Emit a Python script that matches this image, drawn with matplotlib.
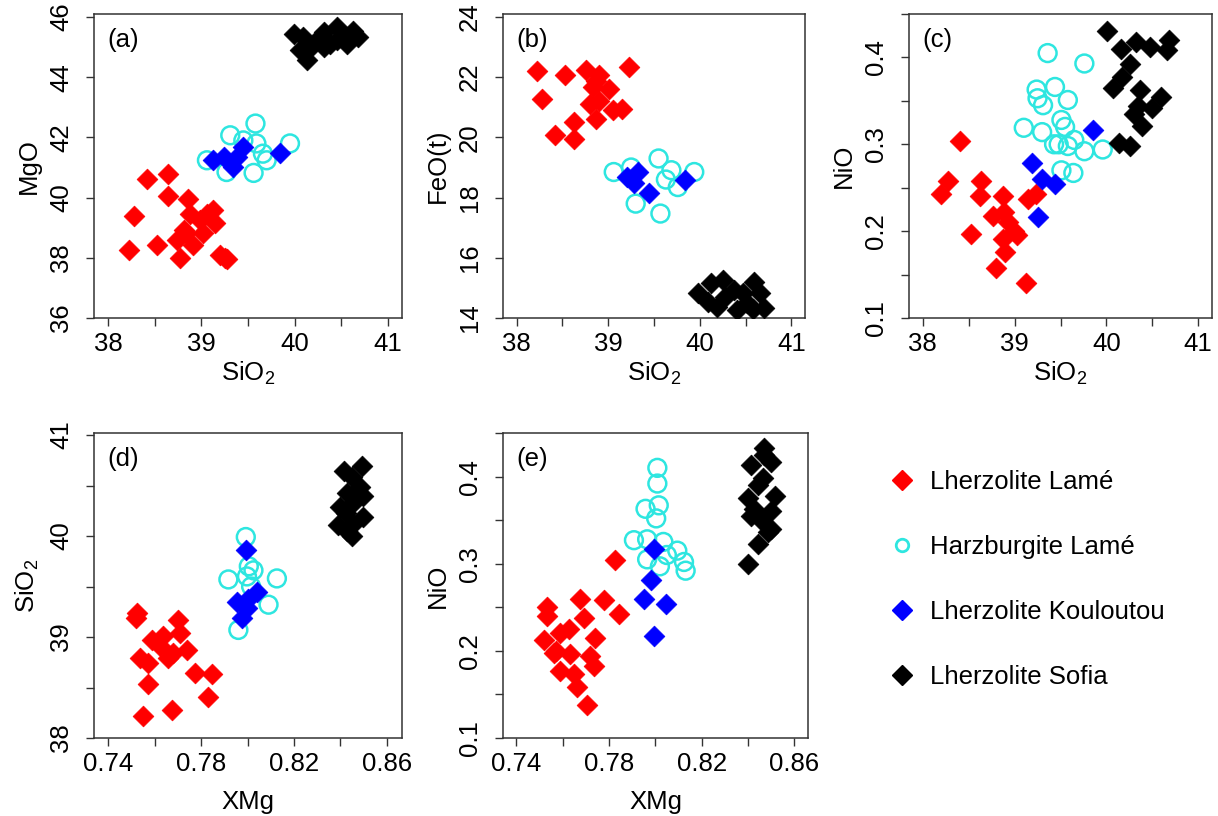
"""
olivine compositions: Lame / Kouloutou / Sofia peridotites
"""
import matplotlib
matplotlib.use('Agg')
import matplotlib.pyplot as plt
from matplotlib.lines import Line2D

plt.rcParams['font.family'] = ['Liberation Sans', 'DejaVu Sans']
plt.rcParams['mathtext.fontset'] = 'custom'
plt.rcParams['mathtext.rm'] = 'Liberation Sans'
plt.rcParams['mathtext.it'] = 'Liberation Sans'

# ---- (a) SiO2 - MgO ----
a_lame_x = [38.42, 38.64, 38.64, 38.28, 38.23, 38.53, 38.77, 38.86, 39.25, 39.20, 39.27,
            38.81, 38.88, 38.99, 39.06, 39.13, 39.15, 38.74, 38.91, 38.84, 39.02]
a_lame_y = [40.61, 40.78, 40.05, 39.38, 38.26, 38.42, 38.01, 39.97, 37.98, 38.10, 37.95,
            38.92, 39.47, 39.25, 39.47, 39.58, 39.14, 38.59, 38.42, 38.81, 38.81]
a_harz_x = [39.06, 39.31, 39.58, 39.95, 39.56, 39.27, 39.66, 39.59, 39.70, 39.45]
a_harz_y = [41.24, 42.07, 42.46, 41.80, 40.82, 40.85, 41.46, 41.80, 41.24, 41.90]
a_koul_x = [39.13, 39.24, 39.34, 39.45, 39.38, 39.84]
a_koul_y = [41.24, 41.35, 41.02, 41.68, 41.35, 41.48]
a_sofia_x = [39.99, 40.09, 40.13, 40.06, 40.24, 40.31, 40.38, 40.45, 40.52, 40.63, 40.68,
             40.56, 40.17, 40.31, 40.45]
a_sofia_y = [45.44, 45.33, 44.56, 44.89, 45.22, 45.50, 45.11, 45.66, 45.33, 45.55, 45.33,
             45.11, 45.00, 45.00, 45.22]

# ---- (b) SiO2 - FeO(t) ----
b_lame_x = [38.22, 38.53, 38.76, 39.23, 38.90, 38.28, 38.83, 39.01, 38.80, 38.90, 39.05,
            39.15, 38.87, 38.63, 38.42, 38.63, 38.87]
b_lame_y = [22.19, 22.06, 22.23, 22.34, 22.06, 21.29, 21.67, 21.62, 21.12, 21.20, 20.90,
            20.95, 20.62, 20.51, 20.07, 19.96, 21.89]
b_harz_x = [39.06, 39.55, 39.69, 39.94, 39.30, 39.57, 39.76, 39.63, 39.25]
b_harz_y = [18.85, 19.30, 18.91, 18.85, 17.80, 17.47, 18.35, 18.60, 19.00]
b_koul_x = [39.21, 39.33, 39.28, 39.44, 39.84]
b_koul_y = [18.69, 18.85, 18.50, 18.14, 18.58]
b_sofia_x = [39.98, 40.12, 40.25, 40.37, 40.59, 40.66, 40.70, 40.19, 40.41, 40.52, 40.09,
             40.28, 40.47, 40.58]
b_sofia_y = [14.82, 15.15, 15.26, 14.93, 15.20, 14.82, 14.32, 14.37, 14.27, 14.49, 14.54,
             14.70, 14.82, 14.30]

# ---- (c) SiO2 - NiO ----
c_lame_x = [38.41, 38.28, 38.20, 38.63, 38.62, 38.87, 38.53, 38.76, 38.88, 38.93, 39.03,
            38.87, 38.90, 38.80, 39.12, 39.15, 39.23, 38.99]
c_lame_y = [0.304, 0.258, 0.243, 0.258, 0.241, 0.241, 0.197, 0.218, 0.222, 0.210, 0.195,
            0.191, 0.176, 0.157, 0.140, 0.237, 0.243, 0.200]
c_harz_x = [39.36, 39.76, 39.24, 39.44, 39.25, 39.58, 39.31, 39.10, 39.30, 39.51, 39.55,
            39.48, 39.58, 39.76, 39.96, 39.64, 39.51, 39.65, 39.43]
c_harz_y = [0.405, 0.393, 0.363, 0.366, 0.353, 0.351, 0.345, 0.319, 0.314, 0.328, 0.320,
            0.300, 0.298, 0.292, 0.294, 0.267, 0.270, 0.305, 0.300]
c_koul_x = [39.19, 39.30, 39.44, 39.26, 39.85]
c_koul_y = [0.279, 0.260, 0.254, 0.216, 0.317]
c_sofia_x = [40.01, 40.16, 40.32, 40.48, 40.68, 40.66, 40.26, 40.17, 40.07, 40.37, 40.59,
             40.34, 40.50, 40.30, 40.39, 40.14, 40.26]
c_sofia_y = [0.431, 0.410, 0.418, 0.412, 0.420, 0.408, 0.393, 0.378, 0.365, 0.363, 0.355,
             0.344, 0.342, 0.335, 0.321, 0.302, 0.298]

# ---- (d) XMg - SiO2 ----
d_lame_x = [0.7525, 0.7520, 0.7702, 0.7709, 0.7587, 0.7637, 0.7623, 0.7680, 0.7738, 0.7537,
            0.7572, 0.7656, 0.7774, 0.7846, 0.7572, 0.7831, 0.7673, 0.7551]
d_lame_y = [39.24, 39.19, 39.17, 39.04, 38.97, 39.01, 38.91, 38.84, 38.87, 38.79,
            38.74, 38.79, 38.64, 38.63, 38.53, 38.41, 38.28, 38.22]
d_harz_x = [0.7992, 0.7917, 0.8126, 0.8005, 0.7997, 0.8090, 0.7960, 0.8015, 0.8025]
d_harz_y = [39.99, 39.57, 39.58, 39.70, 39.60, 39.32, 39.07, 39.50, 39.66]
d_koul_x = [0.7992, 0.8040, 0.7953, 0.7997, 0.7975, 0.8000]
d_koul_y = [39.86, 39.45, 39.35, 39.29, 39.19, 39.38]
d_sofia_x = [0.8413, 0.8492, 0.8450, 0.8485, 0.8428, 0.8496, 0.8399, 0.8453, 0.8425, 0.8499,
             0.8391, 0.8456, 0.8449, 0.8430]
d_sofia_y = [40.64, 40.69, 40.58, 40.49, 40.43, 40.40, 40.29, 40.33, 40.23, 40.19,
             40.11, 40.12, 40.00, 40.05]

# ---- (e) XMg - NiO ----
e_lame_x = [0.7828, 0.7778, 0.7843, 0.7677, 0.7533, 0.7535, 0.7691, 0.7742, 0.7626, 0.7518,
            0.7573, 0.7561, 0.7634, 0.7720, 0.7735, 0.7590, 0.7648, 0.7663, 0.7706, 0.7587]
e_lame_y = [0.304, 0.258, 0.242, 0.260, 0.250, 0.240, 0.238, 0.215, 0.225, 0.213,
            0.200, 0.198, 0.196, 0.194, 0.183, 0.177, 0.173, 0.158, 0.138, 0.220]
e_harz_x = [0.8009, 0.8009, 0.7958, 0.8015, 0.8004, 0.7908, 0.7965, 0.8095, 0.8124, 0.8131,
            0.7965, 0.8020, 0.8050, 0.8035]
e_harz_y = [0.410, 0.392, 0.363, 0.367, 0.352, 0.327, 0.328, 0.315, 0.302, 0.292,
            0.305, 0.297, 0.310, 0.325]
e_koul_x = [0.7994, 0.7980, 0.7951, 0.8045, 0.7994]
e_koul_y = [0.317, 0.281, 0.260, 0.254, 0.217]
e_sofia_x = [0.8470, 0.8413, 0.8499, 0.8463, 0.8442, 0.8515, 0.8399, 0.8427, 0.8499, 0.8413,
             0.8455, 0.8499, 0.8485, 0.8442, 0.8399, 0.8470]
e_sofia_y = [0.433, 0.413, 0.417, 0.398, 0.390, 0.378, 0.375, 0.363, 0.360, 0.355,
             0.350, 0.340, 0.336, 0.323, 0.300, 0.425]

group_names = ['Lherzolite Lamé', 'Harzburgite Lamé', 'Lherzolite Kouloutou', 'Lherzolite Sofia']

# tick positions / labels
sio2_ticks = [38, 38.5, 39, 39.5, 40, 40.5, 41]
sio2_labels = ['38', '', '39', '', '40', '', '41']
xmg_ticks = [0.74, 0.76, 0.78, 0.80, 0.82, 0.84, 0.86]
xmg_labels = ['0.74', '', '0.78', '', '0.82', '', '0.86']
mgo_ticks = [36, 38, 40, 42, 44, 46]
feo_ticks = [14, 16, 18, 20, 22, 24]
nio_ticks = [0.1, 0.15, 0.2, 0.25, 0.3, 0.35, 0.4, 0.45]
nio_labels = ['0.1', '', '0.2', '', '0.3', '', '0.4', '']

RED = '#ff0000'
CYAN = '#2ee6e0'
BLUE = '#0000ff'
BLACK = '#000000'
FS = 18.5
SIO2 = r'SiO$_{2}$'
DSIZE = 112  # diamond size (scatter s)


def draw(ax, lame, harz, koul, sofia):
    # 빨강 -> 청록(속 빈 원) -> 파랑 -> 검정 순서로 겹쳐 그림
    ax.scatter(lame[0], lame[1], marker='D', s=DSIZE, c=RED, edgecolors=RED, linewidths=0.5, zorder=3)
    ax.scatter(harz[0], harz[1], marker='o', s=165, facecolors='none', edgecolors=CYAN,
               linewidths=1.8, zorder=4)
    ax.scatter(koul[0], koul[1], marker='D', s=DSIZE, c=BLUE, edgecolors=BLUE, linewidths=0.5, zorder=5)
    ax.scatter(sofia[0], sofia[1], marker='D', s=DSIZE, c=BLACK, edgecolors=BLACK, linewidths=0.5, zorder=6)


def setup(ax, xlim, ylim, xticks, xlabels, yticks, ylabels, xname, yname, tag, xpad=3):
    ax.set_xlim(xlim)
    ax.set_ylim(ylim)
    ax.set_xticks(xticks)
    ax.set_xticklabels(xlabels, fontsize=FS)
    ax.set_yticks(yticks)
    ax.set_yticklabels(ylabels, fontsize=FS, rotation=90, va='center')
    ax.tick_params(direction='out', length=6, width=1, color='#333333', pad=4)
    ax.tick_params(axis='y', pad=9)
    for sp in ax.spines.values():
        sp.set_linewidth(1.1)
        sp.set_color('#333333')
    ax.set_xlabel(xname, fontsize=FS, labelpad=xpad)
    ax.set_ylabel(yname, fontsize=FS, labelpad=6)
    ax.text(0.045, 0.915, tag, transform=ax.transAxes, fontsize=FS, va='center', ha='left')


fig = plt.figure(figsize=(12.18, 8.16), dpi=100)
W, H = 1218, 816


def add_axes(left, top, right, bottom):
    return fig.add_axes([left / W, 1 - bottom / H, (right - left) / W, (bottom - top) / H])


ax_a = add_axes(94, 14, 402, 318)
ax_b = add_axes(503, 14, 805, 318)
ax_c = add_axes(909, 14, 1212, 318)
ax_d = add_axes(94, 433, 402, 738)
ax_e = add_axes(503, 433, 808, 738)

draw(ax_a, (a_lame_x, a_lame_y), (a_harz_x, a_harz_y), (a_koul_x, a_koul_y), (a_sofia_x, a_sofia_y))
draw(ax_b, (b_lame_x, b_lame_y), (b_harz_x, b_harz_y), (b_koul_x, b_koul_y), (b_sofia_x, b_sofia_y))
draw(ax_c, (c_lame_x, c_lame_y), (c_harz_x, c_harz_y), (c_koul_x, c_koul_y), (c_sofia_x, c_sofia_y))
draw(ax_d, (d_lame_x, d_lame_y), (d_harz_x, d_harz_y), (d_koul_x, d_koul_y), (d_sofia_x, d_sofia_y))
draw(ax_e, (e_lame_x, e_lame_y), (e_harz_x, e_harz_y), (e_koul_x, e_koul_y), (e_sofia_x, e_sofia_y))

setup(ax_a, (37.85, 41.15), (36, 46.1), sio2_ticks, sio2_labels, mgo_ticks,
      [str(v) for v in mgo_ticks], SIO2, 'MgO', '(a)')
setup(ax_b, (37.85, 41.15), (14, 24.1), sio2_ticks, sio2_labels, feo_ticks,
      [str(v) for v in feo_ticks], SIO2, 'FeO(t)', '(b)')
setup(ax_c, (37.85, 41.15), (0.1, 0.45), sio2_ticks, sio2_labels, nio_ticks,
      nio_labels, SIO2, 'NiO', '(c)')
setup(ax_d, (0.7338, 0.8665), (38, 41.02), xmg_ticks, xmg_labels, sio2_ticks,
      sio2_labels, 'XMg', SIO2, '(d)', xpad=10)
setup(ax_e, (0.7343, 0.8659), (0.1, 0.45), xmg_ticks, xmg_labels, nio_ticks,
      nio_labels, 'XMg', 'NiO', '(e)', xpad=10)

# legend (빈 자리에)
handles = [
    Line2D([], [], marker='D', linestyle='none', markersize=10, color=RED),
    Line2D([], [], marker='o', linestyle='none', markersize=9, markerfacecolor='none',
           markeredgecolor=CYAN, markeredgewidth=2),
    Line2D([], [], marker='D', linestyle='none', markersize=10, color=BLUE),
    Line2D([], [], marker='D', linestyle='none', markersize=10, color=BLACK),
]
fig.legend(handles, group_names, loc='upper left', bbox_to_anchor=(866 / W, 1 - 447 / H),
           frameon=False, fontsize=FS, handlelength=1.0, handletextpad=0.6, labelspacing=1.6)

fig.savefig('out.png', dpi=100)
